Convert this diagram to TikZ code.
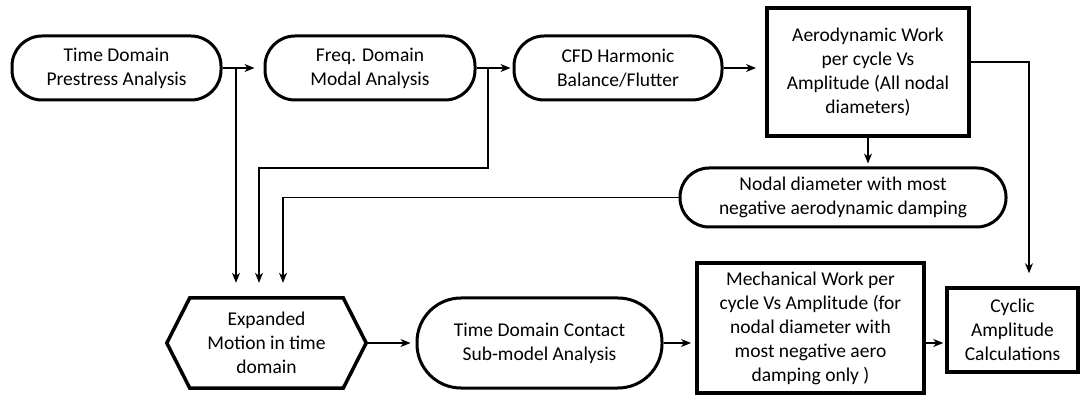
\documentclass[tikz,border=0pt]{standalone}
\usepackage{fontspec}
\setmainfont{Carlito}
\usetikzlibrary{arrows.meta}
\begin{document}
\begin{tikzpicture}[x=1pt,y=-1pt,
  every node/.style={font=\fontsize{19.5}{24}\selectfont, align=center, inner sep=0pt},
  pill/.style={draw, line width=3pt, rounded corners=30pt, minimum height=64pt},
  boxnode/.style={draw, line width=4pt},
  conn/.style={line width=1.3pt, -{Stealth[length=10pt,width=8pt,inset=3pt]}},
  link/.style={line width=1.3pt}
]
\useasboundingbox (0,0) rectangle (1084,395);

% top row
\node[pill, minimum width=209pt] (n1) at (116.5,68) {Time Domain\\Prestress Analysis};
\node[pill, minimum width=210pt] (n2) at (370,68) {Freq. Domain\\Modal Analysis};
\node[pill, minimum width=208pt] (n3) at (618,68) {CFD Harmonic\\Balance/Flutter};
\node[boxnode, minimum width=202pt, minimum height=128pt] (n4) at (868,72)
  {Aerodynamic Work\\per cycle Vs\\Amplitude (All nodal\\diameters)};

% middle
\node[pill, rounded corners=29pt, minimum width=326pt, minimum height=59pt] (n5) at (843,197.5)
  {Nodal diameter with most\\negative aerodynamic damping};

% bottom row
\node[minimum width=199pt, minimum height=90pt] (hex) at (266.5,343)
  {Expanded\\Motion in time\\domain};
\draw[line width=3.5pt, line join=miter]
  (hex.west) -- ([xshift=23pt]hex.north west) -- ([xshift=-23pt]hex.north east)
  -- (hex.east) -- ([xshift=-23pt]hex.south east) -- ([xshift=23pt]hex.south west) -- cycle;
\node[pill, rounded corners=44pt, minimum width=245pt, minimum height=90pt] (n7) at (539.5,343)
  {Time Domain Contact\\Sub-model Analysis};
\node[boxnode, minimum width=227pt, minimum height=129pt] (n8) at (810.5,328)
  {Mechanical Work per\\cycle Vs Amplitude (for\\nodal diameter with\\most negative aero\\damping only )};
\node[draw, line width=3.5pt, minimum width=131pt, minimum height=84pt] (n9) at (1012.5,330)
  {Cyclic\\Amplitude\\Calculations};

% branch points and bends
\coordinate (b1) at (236,68);
\coordinate (b2) at (488,68);
\coordinate (k2) at (259,168);
\coordinate (k3) at (283,197.5);
\coordinate (k4) at (1029,62);

% connectors
\draw[conn, shorten >=9pt] (n1.east) -- (n2.west);
\draw[conn, shorten >=2pt] (n2.east) -- (n3.west);
\draw[conn, shorten >=9pt] (n3.east) -- (n4.west |- n3.east);
\draw[conn, shorten >=3pt] (n4.south) -- (n4.south |- n5.north);
\draw[conn, shorten >=13pt] (n4.east |- k4) -- (k4) -- (k4 |- n9.north);

\draw[conn, shorten >=15pt] (b1) -- (b1 |- hex.north);
\draw[conn, shorten >=15pt] (b2) |- (k2) -- (k2 |- hex.north);
\draw[conn, shorten >=15pt] (n5.west) -- (k3) -- (k3 |- hex.north);

\draw[conn, shorten >=5pt] (hex.east) -- (n7.west);
\draw[conn, shorten >=4pt] (n7.east) -- (n8.west |- n7.east);
\draw[conn, shorten >=2pt] (n8.east |- n7.east) -- (n9.west |- n7.east);
\end{tikzpicture}
\end{document}
